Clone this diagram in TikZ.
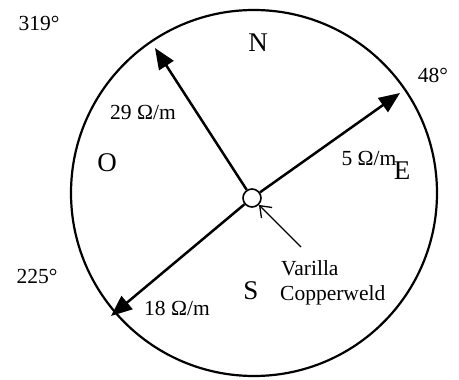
\documentclass[tikz,border=0pt]{standalone}
\usepackage{fontspec}
\setmainfont{Liberation Serif}
\usetikzlibrary{arrows.meta}
\begin{document}
\begin{tikzpicture}[x=1pt,y=-1pt,
  lbl/.style={inner sep=0pt,font=\fontsize{21.5}{23}\selectfont},
  card/.style={inner sep=0pt,font=\fontsize{27}{29}\selectfont},
  ray/.style={line width=2.5pt,-{Triangle[length=21pt,width=17pt]}},
  ptr/.style={line width=1.3pt,-{Straight Barb[length=10pt,width=15pt,line width=1.3pt]}}]
\useasboundingbox (0,0) rectangle (459,380);
\draw[line width=2.2pt] (254,193) circle (183);
\node[draw,circle,line width=1.6pt,minimum size=18pt,inner sep=0pt] (c) at (252,198) {};
\coordinate (tnw) at (155,48);
\coordinate (tne) at (400,93);
\coordinate (tsw) at (111,316);
\coordinate (p) at (301,247);
\draw[ray] (c) -- (tnw);
\draw[ray] (c) -- (tne);
\draw[ray] (c) -- (tsw);
\draw[ptr] (p) -- (c);
\node[lbl] (a319) at (39,23) {319°};
\node[lbl] (a48) at (433,75) {48°};
\node[lbl] (a225) at (37,276) {225°};
\node[card] (n) at (258,43) {N};
\node[card] (o) at (107,163) {O};
\node[card] (e) at (402,171) {E};
\node[card] (s) at (251,291) {S};
\node[lbl] (r29) at (143,112) {29 Ω/m};
\node[lbl] (r5) at (369,158) {5 Ω/m};
\node[lbl] (r18) at (177,308) {18 Ω/m};
\node[lbl,anchor=west] (v1) at (281,268) {Varilla};
\node[lbl,anchor=west] (v2) at (280,295) {Copperweld};
\end{tikzpicture}
\end{document}
